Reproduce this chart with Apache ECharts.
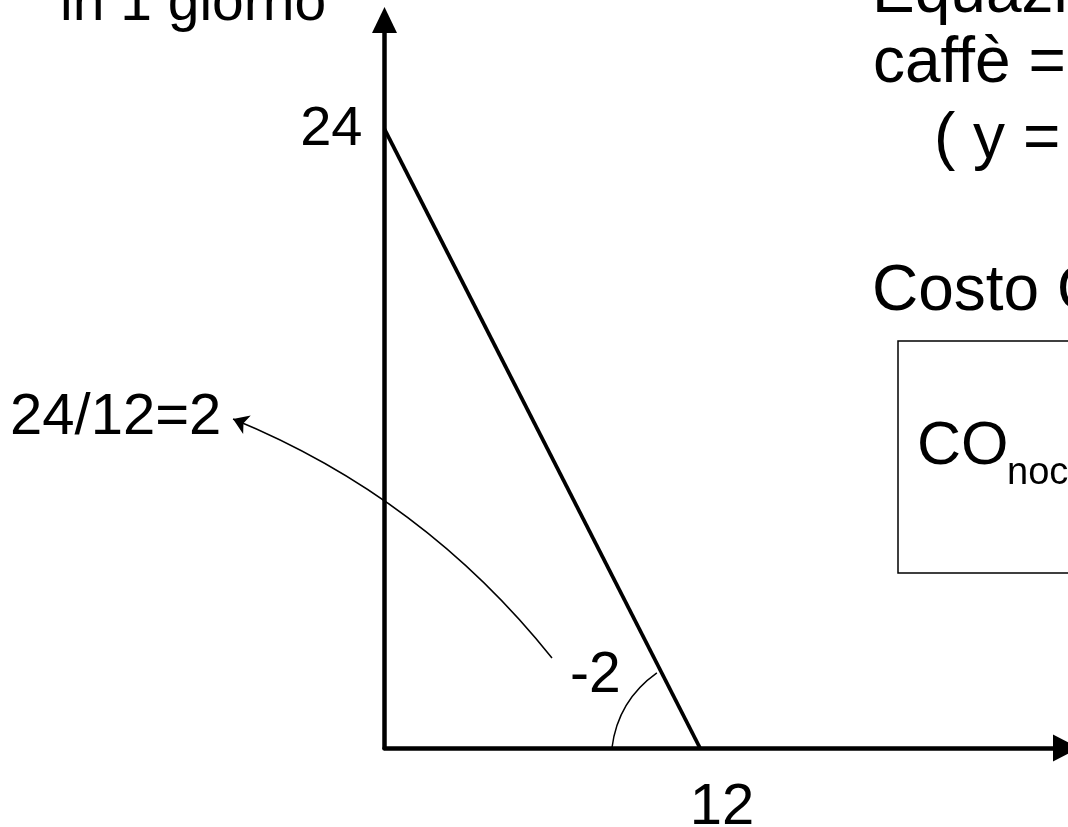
<!DOCTYPE html>
<html>
<head>
<meta charset="utf-8">
<script src="https://cdn.jsdelivr.net/npm/echarts@6/dist/echarts.min.js"></script>
<style>
  html, body { margin: 0; padding: 0; background: #fff; }
  #chart { width: 1068px; height: 827px; }
</style>
</head>
<body>
<div id="chart"></div>
<script>
// budget line: caffè (y) vs noccioline (x), 1 day
const lineX = [0, 12];
const lineY = [24, 0];
const xTicks = [12];
const yTicks = [24];
const xMax = 25.92;
const yMax = 28.23;
// annotation curves, in data units
const slopeArrowFrom = [6.37, 3.49];
const slopeArrowTo = [-5.76, 12.76];
const angleArcFrom = [8.65, 0];
const angleArcTo = [10.36, 2.91];

const FONT = "'Liberation Sans', Arial, sans-serif";

function label(text, x, baseline, size) {
  // place text by its left edge and alphabetic baseline
  return {
    type: 'text',
    left: x,
    top: baseline - 0.8465 * size,
    style: { text: text, font: size + 'px ' + FONT, lineHeight: size, fill: '#000' }
  };
}

const chart = echarts.init(document.getElementById('chart'));
chart.setOption({
  animation: false,
  backgroundColor: '#fff',
  grid: { left: 384.5, top: 20, right: 2, bottom: 79, containLabel: false, outerBoundsMode: 'none' },
  xAxis: {
    type: 'value',
    min: 0,
    max: xMax,
    splitLine: { show: false },
    axisTick: { show: false },
    axisLine: {
      symbol: ['none', 'triangle'],
      symbolSize: [27, 26],
      lineStyle: { color: '#000', width: 4.5 }
    },
    axisLabel: {
      customValues: xTicks,
      color: '#000',
      fontFamily: FONT,
      fontSize: 58,
      lineHeight: 58,
      margin: 31,
      padding: [0, 0, 0, 44]
    }
  },
  yAxis: {
    type: 'value',
    min: 0,
    max: yMax,
    splitLine: { show: false },
    axisTick: { show: false },
    axisLine: {
      symbol: ['none', 'triangle'],
      symbolSize: [25, 26],
      lineStyle: { color: '#000', width: 4.5 }
    },
    axisLabel: {
      customValues: yTicks,
      color: '#000',
      fontFamily: FONT,
      fontSize: 56,
      lineHeight: 56,
      margin: 22,
      padding: [4, 0, 0, 0]
    }
  },
  series: [
    {
      type: 'line',
      data: lineX.map((x, i) => [x, lineY[i]]),
      symbol: 'none',
      lineStyle: { color: '#000', width: 3.8 },
      z: 3
    },
    {
      type: 'lines',
      coordinateSystem: 'cartesian2d',
      clip: false,
      symbol: ['none', 'arrow'],
      symbolSize: 15,
      lineStyle: { color: '#000', width: 1.5, curveness: -0.13, opacity: 1 },
      data: [{ coords: [slopeArrowFrom, slopeArrowTo] }]
    },
    {
      type: 'lines',
      coordinateSystem: 'cartesian2d',
      clip: false,
      symbol: 'none',
      lineStyle: { color: '#000', width: 1.5, curveness: 0.22, opacity: 1 },
      data: [{ coords: [angleArcFrom, angleArcTo] }]
    }
  ],
  graphic: [
    label('in 1 giorno', 60, 24, 57),
    label('24/12=2', 10, 438, 58),
    label('-2', 570, 696, 57),
    label('Equazione del vincolo', 872, 17, 64),
    label('caffè = 24 – 2 noccioline', 873, 87, 64),
    label('( y = 24 – 2x )', 934, 163, 64),
    label('Costo Opportunità', 872, 315, 64),
    {
      type: 'rect',
      shape: { x: 898, y: 341, width: 260, height: 232 },
      style: { fill: 'none', stroke: '#000', lineWidth: 1.5 }
    },
    label('CO', 917, 468, 61),
    label('noccioline', 1007, 487, 38)
  ]
});
</script>
</body>
</html>
